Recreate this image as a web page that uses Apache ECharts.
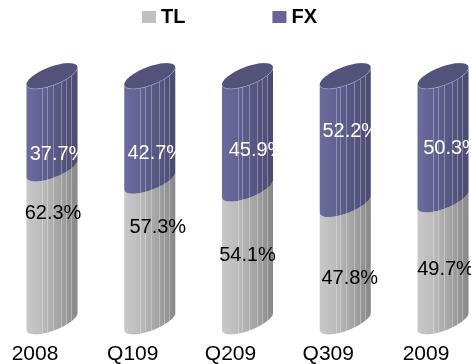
<!DOCTYPE html>
<html>
<head>
<meta charset="utf-8">
<script src="https://cdn.jsdelivr.net/npm/echarts@6/dist/echarts.min.js"></script>
<style>
  html, body { margin: 0; padding: 0; background: #fff; }
  #chart { width: 471px; height: 364px; }
</style>
</head>
<body>
<div id="chart"></div>
<script>
// Share of TL vs FX per period (percent)
const categories = ['2008', 'Q109', 'Q209', 'Q309', '2009'];
const tlShare = [62.3, 57.3, 54.1, 47.8, 49.7];
const fxShare = [37.7, 42.7, 45.9, 52.2, 50.3];
const seriesNames = ['TL', 'FX'];

// Hand-placed label nudges in pixels [dx, dy] from the middle of each segment
const tlLabelShift = [[1, -32], [8, -24], [0, 0], [4.5, 16], [2.5, 8.5]];
const fxLabelShift = [[6, 32], [6, 25], [9.5, 18], [5.5, -9], [8.5, 11]];

const FONT = '"Liberation Sans", Arial, Helvetica, sans-serif';

const palette = {
  TL: {
    legend: '#c0c0c0',
    body: [[0, '#c8c8c8'], [0.3, '#bcbcbc'], [0.7, '#a0a0a0'], [1, '#888888']],
    cap: '#a9a9a9',
    text: '#000000'
  },
  FX: {
    legend: '#666699',
    body: [[0, '#6b6b9d'], [0.3, '#616193'], [0.7, '#54547f'], [1, '#4b4b71']],
    cap: '#52527b',
    text: '#ffffff'
  }
};

// stripe positions across the cylinder face (0 = left edge, 1 = right edge)
const facets = [0.31, 0.40, 0.52, 0.68, 0.78, 0.88];

function buildRows(lows, highs) {
  return categories.map((c, i) => [i, lows[i], highs[i]]);
}
const tlRows = buildRows(tlShare.map(() => 0), tlShare);
const fxRows = buildRows(tlShare, tlShare.map((v, i) => v + fxShare[i]));

function cylinderItem(name, shifts, isTop) {
  const pal = palette[name];
  return function (params, api) {
    const idx = api.value(0);
    const lo = api.value(1);
    const hi = api.value(2);
    const value = hi - lo;
    const pBase = api.coord([idx, lo]);
    const pTop = api.coord([idx, hi]);
    const step = api.size([1, 0])[0];
    const r = step * 0.261;          // half width of the cylinder
    const depth = step * 0.174;      // 3D depth shift to the right
    const cx = pBase[0] + depth;
    const kr = r * 0.333;            // vertical tilt of the ellipse ends
    const b = r * 0.38;              // ellipse minor radius

    const N = 40;
    function frontCurve(cy, reverse) {
      const pts = [];
      for (let j = 0; j <= N; j++) {
        const t = Math.PI - Math.PI * j / N;
        const c = Math.cos(t), s = Math.sin(t);
        pts.push([cx + r * c, cy - kr * c + b * s]);
      }
      return reverse ? pts.reverse() : pts;
    }
    const yBase = pBase[1];
    const yTop = pTop[1];
    const body = frontCurve(yBase, false).concat(frontCurve(yTop, true));

    const children = [{
      type: 'polygon',
      shape: { points: body },
      style: {
        fill: {
          type: 'linear', x: 0, y: 0, x2: 1, y2: 0,
          colorStops: pal.body.map(s => ({ offset: s[0], color: s[1] }))
        }
      }
    }];

    facets.forEach(f => {
      const c = 2 * f - 1;
      const s = Math.sqrt(Math.max(0, 1 - c * c));
      const x = Math.round(cx + r * c) + 0.5;
      children.push({
        type: 'line',
        shape: {
          x1: x, y1: yTop - kr * c + b * s,
          x2: x, y2: yBase - kr * c + b * s
        },
        style: { stroke: 'rgba(255,255,255,0.3)', lineWidth: 1 }
      });
    });

    if (isTop) {
      const cap = [];
      for (let j = 0; j < 72; j++) {
        const t = 2 * Math.PI * j / 72;
        const c = Math.cos(t), s = Math.sin(t);
        cap.push([cx + r * c, yTop - kr * c + b * s]);
      }
      children.push({
        type: 'polygon',
        shape: { points: cap },
        style: { fill: pal.cap }
      });
      children.push({
        type: 'polyline',
        shape: { points: frontCurve(yTop, false) },
        style: { stroke: 'rgba(200,200,230,0.4)', lineWidth: 1, fill: null }
      });
    }

    const sh = shifts[idx];
    children.push({
      type: 'text',
      x: cx + sh[0],
      y: (yBase + yTop) / 2 + sh[1],
      style: {
        text: value.toFixed(1) + '%',
        fill: pal.text,
        font: '20px ' + FONT,
        align: 'center',
        verticalAlign: 'middle'
      }
    });

    return { type: 'group', children: children };
  };
}

const chart = echarts.init(document.getElementById('chart'), null, { renderer: 'canvas' });
chart.setOption({
  animation: false,
  backgroundColor: '#ffffff',
  legend: {
    data: seriesNames,
    left: 142,
    top: 7,
    padding: 0,
    icon: 'rect',
    itemWidth: 14,
    itemHeight: 12,
    itemGap: 87,
    textStyle: { fontFamily: FONT, fontSize: 20, fontWeight: 'bold', color: '#000' }
  },
  grid: { left: 35, right: 45, top: 76, bottom: 42.5, containLabel: false, outerBoundsMode: 'none' },
  xAxis: {
    type: 'category',
    data: categories,
    boundaryGap: false,
    axisLine: { show: false },
    axisTick: { show: false },
    splitLine: { show: false },
    axisLabel: { fontFamily: FONT, fontSize: 21, color: '#000', margin: 22 }
  },
  yAxis: { type: 'value', min: 0, max: 100, show: false },
  series: [
    {
      name: seriesNames[0],
      type: 'custom',
      itemStyle: { color: palette.TL.legend },
      encode: { x: 0, y: [1, 2] },
      data: tlRows,
      renderItem: cylinderItem('TL', tlLabelShift, false)
    },
    {
      name: seriesNames[1],
      type: 'custom',
      itemStyle: { color: palette.FX.legend },
      encode: { x: 0, y: [1, 2] },
      data: fxRows,
      renderItem: cylinderItem('FX', fxLabelShift, true)
    }
  ]
});
</script>
</body>
</html>
